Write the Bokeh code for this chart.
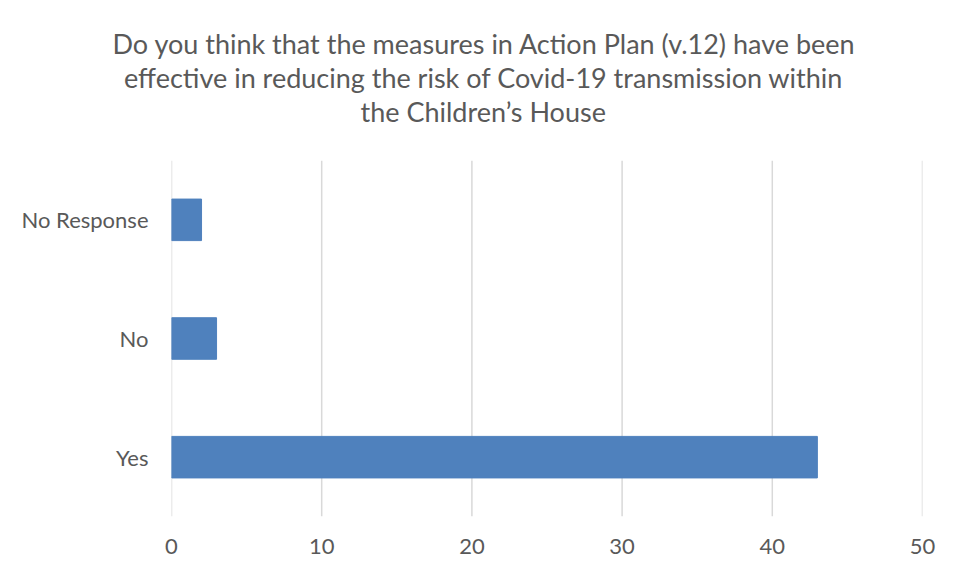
from bokeh.plotting import figure
from bokeh.models import FixedTicker, Range1d, Span, Title
from bokeh.embed import file_html
from bokeh.resources import INLINE

categories = ["Yes", "No", "No Response"]
counts = [43, 3, 2]
x_ticks = [0, 10, 20, 30, 40, 50]
title_lines = ["Do you think that the measures in Action Plan (v.12) have been",
               "effective in reducing the risk of Covid-19 transmission within",
               "the Children\u2019s House"]

FONT = "Lato"
GREY = "#595959"
GRID = "#d9d9d9"

p = figure(width=955, height=570, y_range=categories, x_range=Range1d(0, 50),
           output_backend="svg", toolbar_location=None, title=None,
           min_border_left=171, min_border_right=33, min_border_top=160, min_border_bottom=54)

for t in x_ticks:
    p.add_layout(Span(location=t, dimension="height", line_color=GRID, line_width=1.5, level="underlay"))

p.hbar(y=categories, right=counts, left=0, height=0.35, color="#4f81bd")

p.outline_line_color = None
p.background_fill_color = "white"
p.border_fill_color = "white"
p.xgrid.grid_line_color = None
p.ygrid.grid_line_color = None
p.xaxis.ticker = FixedTicker(ticks=x_ticks)
for ax in (p.xaxis, p.yaxis):
    ax.axis_line_color = None
    ax.major_tick_line_color = None
    ax.minor_tick_line_color = None
    ax.major_tick_out = 0
    ax.major_tick_in = 0
    ax.major_label_text_font = FONT
    ax.major_label_text_font_size = "22px"
    ax.major_label_text_color = GREY
p.xaxis.major_label_standoff = 22
p.yaxis.major_label_standoff = 23

# title lines: each centred on x = 482 of the canvas (frame left is 171)
est_widths = [740, 717, 244]
spacer = Title(text=" ", text_font_size="24px", standoff=4)
p.add_layout(spacer, "above")
for line, w in reversed(list(zip(title_lines, est_widths))):
    p.add_layout(Title(text=line, align="left", offset=482 - w / 2 - 171,
                       text_font=FONT, text_font_size="27px", text_font_style="normal",
                       text_color=GREY, standoff=-1), "above")

open("out.html", "w").write(file_html(p, INLINE))
